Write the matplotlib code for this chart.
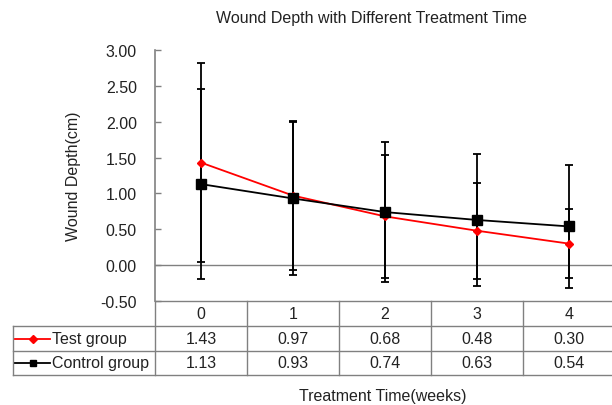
import matplotlib
matplotlib.use("Agg")
import matplotlib.pyplot as plt
from matplotlib import transforms
from matplotlib.lines import Line2D

plt.rcParams['font.family'] = ['Liberation Sans', 'DejaVu Sans']

weeks = [0, 1, 2, 3, 4]
week_labels = ["0", "1", "2", "3", "4"]
test_mean = [1.43, 0.97, 0.68, 0.48, 0.30]
test_sd = [1.39, 1.04, 0.86, 0.67, 0.48]
ctrl_mean = [1.13, 0.93, 0.74, 0.63, 0.54]
ctrl_sd = [1.33, 1.07, 0.98, 0.92, 0.86]
series_names = ["Test group", "Control group"]
yticks = [-0.5, 0.0, 0.5, 1.0, 1.5, 2.0, 2.5, 3.0]

W, H = 612, 406
fig = plt.figure(figsize=(W / 100, H / 100), dpi=100)
ax_left, ax_right, ax_top, ax_bot = 155, 615, 51, 302
ax = fig.add_axes([ax_left / W, 1 - ax_bot / H, (ax_right - ax_left) / W, (ax_bot - ax_top) / H])

FS = 11.5
GRAY = "#808080"
TXT = "#222222"

ax.set_xlim(-0.5, 4.5)
ax.set_ylim(-0.5, 3.0)
ax.set_yticks(yticks)
ax.set_yticklabels([f"{v:.2f}" for v in yticks], fontsize=FS, color=TXT)
ax.set_xticks([])
for s in ["top", "right", "bottom"]:
    ax.spines[s].set_visible(False)
ax.spines["left"].set_color(GRAY)
ax.spines["left"].set_linewidth(1.2)
ax.tick_params(axis="y", direction="in", length=4, width=1, color=GRAY, pad=13)
ax.axhline(0, color=GRAY, lw=1.0, zorder=1)

# error bars (black for both)
ax.errorbar(weeks, test_mean, yerr=test_sd, fmt="none", ecolor="black",
            elinewidth=1.3, capsize=3, capthick=1.3, zorder=2)
ax.errorbar(weeks, ctrl_mean, yerr=ctrl_sd, fmt="none", ecolor="black",
            elinewidth=1.3, capsize=3, capthick=1.3, zorder=2)
ax.plot(weeks, test_mean, color="#ff0000", lw=1.3, marker="D", markersize=4.5,
        markerfacecolor="#ff0000", markeredgecolor="#ff0000", zorder=3)
ax.plot(weeks, ctrl_mean, color="black", lw=1.3, marker="s", markersize=6.5,
        markerfacecolor="black", markeredgecolor="black", zorder=4)

ax.set_ylabel("Wound Depth(cm)", fontsize=FS, color=TXT)
ax.yaxis.set_label_coords((81 - ax_left) / (ax_right - ax_left), 0.5)

# title and x label
fig.text(371 / W, 1 - 19 / H, "Wound Depth with Different Treatment Time",
         ha="center", va="center", fontsize=FS, color=TXT)
fig.text(383 / W, 1 - 404 / H, "Treatment Time(weeks)", ha="center", va="bottom",
         fontsize=FS, color=TXT)

# data table below axes
tr = transforms.blended_transform_factory(ax.transData, fig.transFigure)
ftr = fig.transFigure
def fy(py):
    return 1 - py / H

rows_y = [302, 327, 352, 376]
lw_t = 1.0
for i, py in enumerate(rows_y):
    x0 = 12.7 / W if i >= 1 else ax_left / W
    fig.add_artist(Line2D([x0, 1.01], [fy(py), fy(py)], transform=ftr, color=GRAY, lw=lw_t))
col_edges = [w - 0.5 for w in weeks] + [weeks[-1] + 0.5]
for xe in col_edges:
    fig.add_artist(Line2D([xe, xe], [fy(rows_y[0]), fy(rows_y[-1])], transform=tr, color=GRAY, lw=lw_t))
fig.add_artist(Line2D([12.7 / W, 12.7 / W], [fy(rows_y[1]), fy(rows_y[-1])], transform=ftr, color=GRAY, lw=lw_t))

for w, lab in zip(weeks, week_labels):
    fig.text(w, fy((rows_y[0] + rows_y[1]) / 2), lab, transform=tr, ha="center", va="center",
             fontsize=FS, color=TXT)
for r, (vals, color, mk, ms) in enumerate([(test_mean, "#ff0000", "D", 4.0), (ctrl_mean, "black", "s", 5)]):
    cy = fy((rows_y[r + 1] + rows_y[r + 2]) / 2)
    for w, v in zip(weeks, vals):
        fig.text(w, cy, f"{v:.2f}", transform=tr, ha="center", va="center",
                 fontsize=FS, color=TXT)
    fig.add_artist(Line2D([15 / W, 50 / W], [cy, cy], transform=ftr, color=color, lw=1.3))
    fig.add_artist(Line2D([33 / W], [cy], transform=ftr, color=color, marker=mk,
                          markersize=ms, markerfacecolor=color, markeredgecolor=color, lw=0))
    fig.text(52 / W, cy, series_names[r], transform=ftr, ha="left", va="center",
             fontsize=FS, color=TXT)

fig.savefig("out.png", dpi=100)
